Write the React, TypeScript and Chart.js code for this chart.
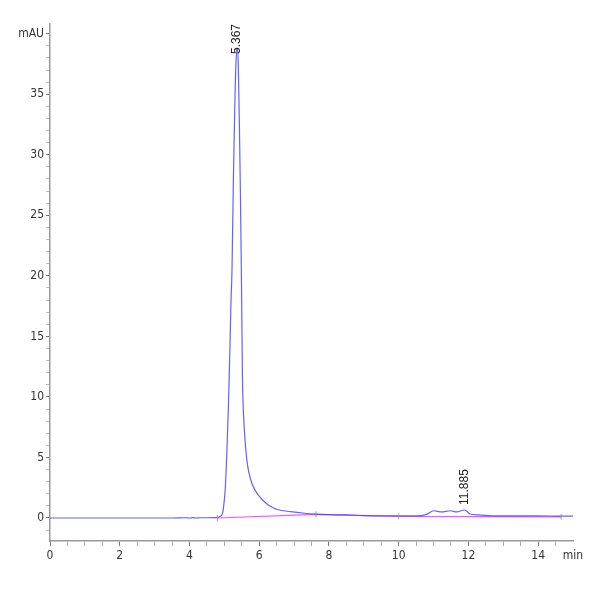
import React, { useEffect, useRef } from "react";
import { Chart, registerables } from "chart.js";

Chart.register(...registerables);

// Retention time (min) and absorbance (mAU) of the chromatogram trace
const times = [0, 0.5, 1, 1.5, 2, 2.5, 3, 3.5, 3.9, 4.0, 4.1, 4.2, 4.3, 4.5, 4.7, 4.8, 4.9, 4.95, 5.0, 5.03, 5.08, 5.12, 5.16, 5.19, 5.22, 5.26, 5.3, 5.34, 5.367, 5.4, 5.44, 5.46, 5.49, 5.52, 5.55, 5.6, 5.65, 5.7, 5.78, 5.88, 6.0, 6.12, 6.24, 6.4, 6.52, 6.9, 7.29, 7.63, 8.0, 8.5, 9.0, 9.5, 10.0, 10.5, 10.8, 11.0, 11.23, 11.48, 11.66, 11.885, 12.05, 12.3, 12.57, 13.0, 13.5, 14.0, 14.5, 15.0];
const absorbance = [0, 0, 0, 0, 0, 0, 0, 0, 0.02, 0.0, 0.03, 0.0, 0.02, 0.02, 0.03, 0.05, 0.15, 0.4, 1.5, 2.6, 6, 9.5, 14, 17.8, 20.5, 28, 34, 38, 38.8, 37.5, 31, 27, 20, 11.5, 8.6, 6.2, 4.7, 3.8, 2.95, 2.3, 1.8, 1.42, 1.12, 0.85, 0.7, 0.52, 0.39, 0.32, 0.28, 0.25, 0.2, 0.18, 0.17, 0.17, 0.3, 0.6, 0.5, 0.6, 0.5, 0.66, 0.33, 0.25, 0.2, 0.18, 0.17, 0.17, 0.16, 0.15];

// Integration baseline (magenta)
const baselineTimes = [4.8, 7.63, 10.0, 14.66];
const baselineValues = [0.0, 0.3, 0.13, 0.1];

// Peak event markers (small gray ticks)
const eventTimes = [4.8, 7.63, 10.0, 14.66];
const eventValues = [0.0, 0.3, 0.13, 0.1];

// Peak annotations
const peakTimes = [5.367, 11.885];
const peakValues = [38.8, 0.66];
const peakLabels = ["5.367", "11.885"];

// Axis ticks
const yMajorTicks = [0, 5, 10, 15, 20, 25, 30, 35];
const yUnitTick = 40;
const yUnitLabel = "mAU";
const xMajorTicks = [0, 2, 4, 6, 8, 10, 12, 14];
const xUnitTick = 15;
const xUnitLabel = "min";

const FONT = "'Liberation Sans Narrow', 'DejaVu Sans Condensed', 'Liberation Sans', sans-serif";

const peakLabelPlugin = {
  id: "peakLabels",
  afterDatasetsDraw(chart: any) {
    const { ctx, scales, chartArea } = chart;
    ctx.save();
    ctx.font = "12px 'Liberation Sans', Arial, sans-serif";
    ctx.fillStyle = "#222";
    ctx.textBaseline = "middle";
    ctx.textAlign = "left";
    peakLabels.forEach((label, i) => {
      const x = scales.x.getPixelForValue(peakTimes[i]);
      const yPeak = scales.y.getPixelForValue(peakValues[i]);
      const w = ctx.measureText(label).width;
      let bottom = yPeak - 5;
      if (bottom - w < chartArea.top) bottom = chartArea.top + w;
      ctx.save();
      ctx.translate(x, bottom);
      ctx.rotate(-Math.PI / 2);
      ctx.fillText(label, 0, 0);
      ctx.restore();
    });
    ctx.restore();
  },
};

export default function App() {
  const ref = useRef<HTMLCanvasElement>(null);
  useEffect(() => {
    if (!ref.current) return;
    const chart = new Chart(ref.current, {
      type: "scatter",
      data: {
        datasets: [
          {
            label: "baseline",
            data: baselineTimes.map((t, i) => ({ x: t, y: baselineValues[i] })),
            showLine: true,
            borderColor: "rgba(255,60,255,0.9)",
            borderWidth: 1.2,
            pointRadius: 0,
            order: 2,
          },
          {
            label: "signal",
            data: times.map((t, i) => ({ x: t, y: absorbance[i] })),
            showLine: true,
            borderColor: "rgba(70,70,255,0.85)",
            borderWidth: 1.2,
            pointRadius: 0,
            cubicInterpolationMode: "monotone",
            order: 1,
          },
          {
            label: "events",
            data: eventTimes.map((t, i) => ({ x: t, y: eventValues[i] })),
            showLine: false,
            pointStyle: "line",
            rotation: 90,
            pointRadius: 3,
            borderColor: "#999",
            borderWidth: 1,
            order: 0,
          },
        ],
      },
      options: {
        animation: false,
        responsive: false,
        maintainAspectRatio: false,
        layout: { padding: { left: 0, top: 24, right: 27, bottom: 0 } },
        plugins: { legend: { display: false }, tooltip: { enabled: false } },
        scales: {
          x: {
            type: "linear",
            min: 0,
            max: 15,
            afterBuildTicks(scale: any) {
              const t = [];
              for (let v = 0; v <= 30; v++) t.push({ value: v / 2 });
              scale.ticks = t;
            },
            afterFit(scale: any) {
              scale.height = 59;
            },
            ticks: {
              autoSkip: false,
              maxRotation: 0,
              padding: 3,
              color: "#333",
              font: { family: FONT, size: 12 },
              callback: (v: any) => {
                if (v === xUnitTick) return xUnitLabel;
                return xMajorTicks.includes(v) ? String(v) : "";
              },
            },
            grid: {
              drawOnChartArea: false,
              tickLength: 5,
              tickColor: (c: any) =>
                c.tick && c.tick.value === xUnitTick ? "rgba(0,0,0,0)" : xMajorTicks.includes(c.tick?.value) ? "#777" : "#aaa",
            },
            border: { color: "#999", width: 1.5 },
          },
          y: {
            type: "linear",
            min: -1.9,
            max: 40.8,
            afterBuildTicks(scale: any) {
              const t = [];
              for (let v = -1; v <= 40; v++) t.push({ value: v });
              scale.ticks = t;
            },
            afterFit(scale: any) {
              scale.width = 50;
            },
            ticks: {
              autoSkip: false,
              padding: 2,
              color: "#333",
              font: { family: FONT, size: 12 },
              callback: (v: any) => {
                if (v === yUnitTick) return yUnitLabel;
                return yMajorTicks.includes(v) ? String(v) : "";
              },
            },
            grid: {
              drawOnChartArea: false,
              tickLength: 4,
              tickColor: (c: any) =>
                yMajorTicks.includes(c.tick?.value) || c.tick?.value === yUnitTick ? "#777" : "#bbb",
            },
            border: { color: "#999", width: 1.5 },
          },
        },
      },
      plugins: [peakLabelPlugin],
    } as any);
    return () => chart.destroy();
  }, []);
  return (
    <div style={{ position: "absolute", left: 0, top: 0, width: 600, height: 600, background: "#fff" }}>
      <canvas ref={ref} width={600} height={600} style={{ width: 600, height: 600 }} />
    </div>
  );
}
